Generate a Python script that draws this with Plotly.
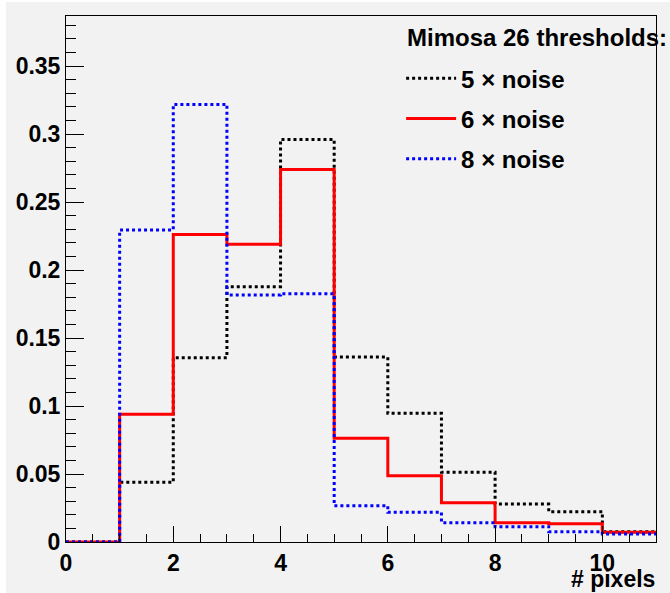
import plotly.graph_objects as go

bin_edges = [0, 1, 2, 3, 4, 5, 6, 7, 8, 9, 10, 11]
noise5 = [0.0, 0.0439, 0.1355, 0.1877, 0.2960, 0.1360, 0.0946, 0.0512, 0.0279, 0.0223, 0.0076]
noise6 = [0.0, 0.0940, 0.2262, 0.2190, 0.2740, 0.0763, 0.0488, 0.0289, 0.0142, 0.0135, 0.0071]
noise8 = [0.0, 0.2294, 0.3218, 0.1816, 0.1826, 0.0267, 0.0218, 0.0142, 0.0113, 0.0076, 0.0059]
names = ["5 × noise", "6 × noise", "8 × noise"]
legend_title = "Mimosa 26 thresholds:"
x_title = "# pixels"
colors = ["#000000", "#ff0000", "#0000ff"]
dashes = ["3px,3px", "solid", "3px,3px"]

FONT = "Liberation Sans, Arial, Helvetica, sans-serif"
W, H = 670, 593
ML, MR, MT, MB = 66, 14, 16, 51
PW, PH = W - ML - MR, H - MT - MB

fig = go.Figure()
for i, (vals, name) in enumerate(zip([noise5, noise6, noise8], names)):
    fig.add_trace(go.Scatter(
        x=bin_edges, y=vals + [vals[-1]], mode="lines", line_shape="hv",
        line=dict(color=colors[i], width=3, dash=dashes[i]),
        name=name, legendgroup=f"g{i}", hoverinfo="skip"))

axis_common = dict(showline=True, mirror=True, linecolor="black", linewidth=1,
                   ticks="inside", tickcolor="black", tickwidth=1,
                   showgrid=False, zeroline=False,
                   tickfont=dict(family=FONT, size=23, color="black", weight="bold"))
fig.update_xaxes(range=[0, 11], dtick=2, tick0=0, ticklen=16,
                 minor=dict(dtick=0.5, ticklen=8, ticks="inside", tickcolor="black", showgrid=False),
                 **axis_common)
fig.update_yaxes(range=[0, 0.3868], dtick=0.05, tick0=0, ticklen=18,
                 minor=dict(dtick=0.01, ticklen=10, ticks="inside", tickcolor="black", showgrid=False),
                 **axis_common)

# canvas background (slight white border at top/left like the original)
fig.add_shape(type="rect", xref="paper", yref="paper", layer="below",
              x0=(6 - ML) / PW, x1=(W - ML + 2) / PW,
              y0=-(MB + 2) / PH, y1=1 + (MT - 2) / PH,
              fillcolor="#f2f2f2", line_width=0)

fig.add_annotation(text=x_title, xref="paper", yref="paper", x=1, y=0,
                   xanchor="right", yanchor="bottom", yshift=-MB, showarrow=False,
                   borderpad=0,
                   font=dict(family=FONT, size=23, color="black", weight="bold"))
fig.add_annotation(text=legend_title, xref="paper", yref="paper", x=0.5746, y=1,
                   xanchor="left", yanchor="middle", yshift=-21, showarrow=False,
                   font=dict(family=FONT, size=24, color="black", weight="bold"))

fig.update_layout(
    width=W, height=H,
    margin=dict(l=ML, r=MR, t=MT, b=MB, autoexpand=False),
    paper_bgcolor="#ffffff", plot_bgcolor="#f2f2f2",
    showlegend=True,
    legend=dict(x=0.568, y=0.9237, xanchor="left", yanchor="top",
                bgcolor="rgba(0,0,0,0)", borderwidth=0,
                traceorder="grouped", tracegroupgap=6,
                font=dict(family=FONT, size=24, color="black", weight="bold"),
                itemwidth=50),
)
fig.write_html("out.html")
